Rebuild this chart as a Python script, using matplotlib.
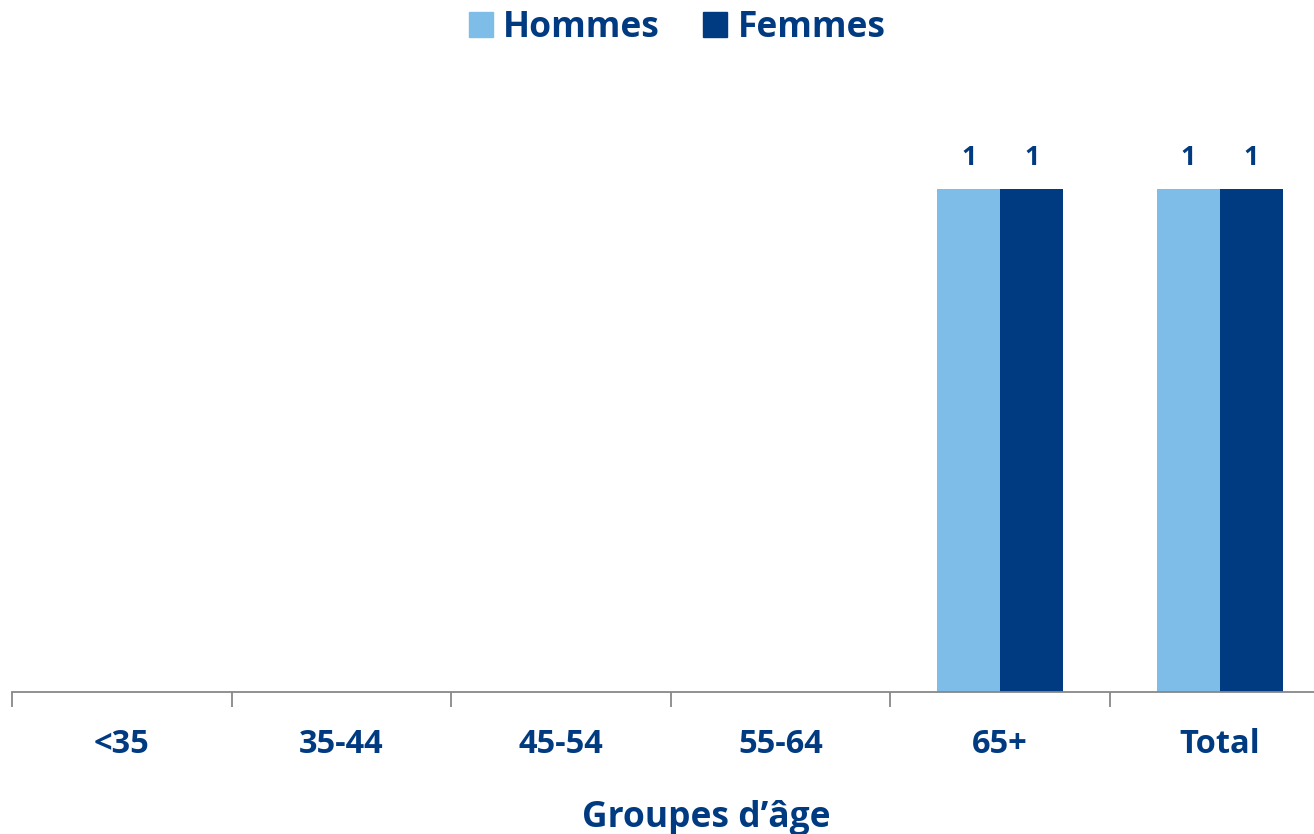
import matplotlib.pyplot as plt
from matplotlib.patches import Patch
import numpy as np

categories = ["<35", "35-44", "45-54", "55-64", "65+", "Total"]
hommes = [0, 0, 0, 0, 1, 1]
femmes = [0, 0, 0, 0, 1, 1]

light = "#7DBDE8"
dark = "#003A80"
txt = "#003A80"

plt.rcParams['font.family'] = ['Open Sans', 'DejaVu Sans']
plt.rcParams['font.weight'] = 'bold'

fig = plt.figure(figsize=(13.14, 8.34), dpi=100)
# axes slightly wider than the figure, as in the reference (last category is clipped)
W, H = 1314, 834
x0, x1 = 12, 12 + 6 * 219.6
y0, y1 = 692, 189
ax = fig.add_axes([x0 / W, (H - y0) / H, (x1 - x0) / W, (y0 - y1) / H])

x = np.arange(len(categories))
bw = 0.287
ax.bar(x - bw / 2, hommes, bw, color=light, label="Hommes")
ax.bar(x + bw / 2, femmes, bw, color=dark, label="Femmes")

for i in range(len(categories)):
    if hommes[i]:
        ax.text(x[i] - bw / 2, hommes[i] + 0.062, str(hommes[i]), ha="center", va="center",
                fontsize=19.5, color=txt, fontweight="bold")
    if femmes[i]:
        ax.text(x[i] + bw / 2, femmes[i] + 0.062, str(femmes[i]), ha="center", va="center",
                fontsize=19.5, color=txt, fontweight="bold")

ax.set_xlim(-0.5, len(categories) - 0.5)
ax.set_ylim(0, 1)
ax.set_yticks([])
for s in ["top", "right", "left"]:
    ax.spines[s].set_visible(False)
ax.spines["bottom"].set_color("#888888")
ax.spines["bottom"].set_linewidth(1.3)

ax.set_xticks(np.arange(-0.5, len(categories), 1.0))
ax.set_xticklabels([])
ax.tick_params(axis="x", length=11, width=1.3, color="#888888")
ax.set_xticks(x, minor=True)
ax.set_xticklabels(categories, minor=True)
ax.tick_params(axis="x", which="minor", length=0, pad=26, labelsize=23.5, labelcolor=txt)
for lab in ax.get_xticklabels(minor=True):
    lab.set_fontweight("bold")

fig.text(706 / W, (H - 818) / H, "Groupes d\u2019âge", ha="center", va="center",
         fontsize=25.5, color=txt, fontweight="bold")

handles = [Patch(color=light, label="Hommes"), Patch(color=dark, label="Femmes")]
leg = fig.legend(handles=handles, loc="center", bbox_to_anchor=(677 / W, (H - 28) / H),
                 ncol=2, frameon=False, fontsize=25.5, handlelength=0.68, handleheight=0.68,
                 handletextpad=0.3, columnspacing=1.2, labelcolor=txt)
for t in leg.get_texts():
    t.set_fontweight("bold")

fig.savefig("out.png", dpi=100)
